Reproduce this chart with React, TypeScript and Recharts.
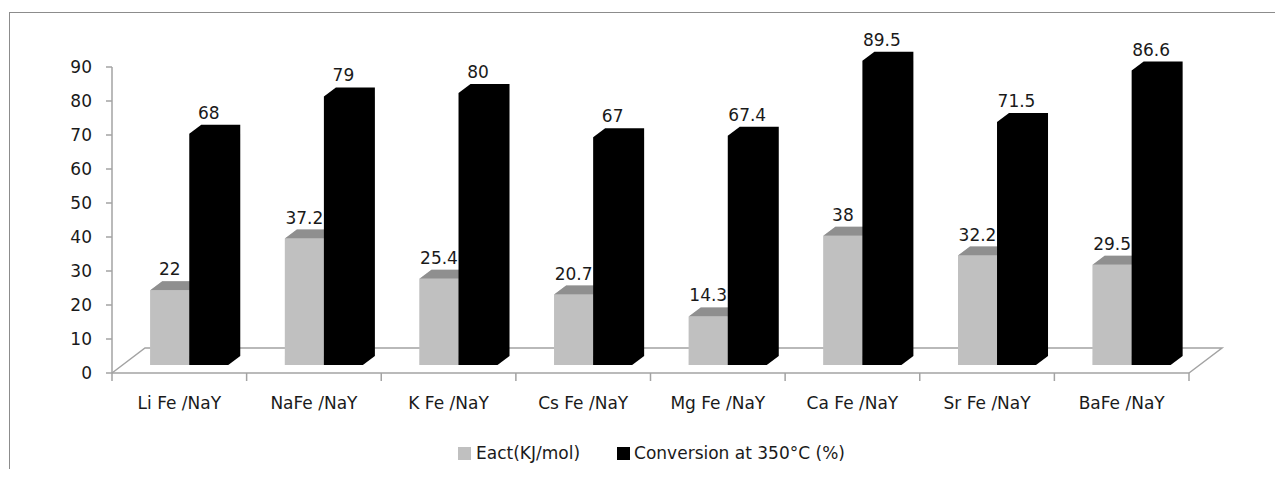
import React from 'react';
import { BarChart, Bar, XAxis, YAxis, Legend, LabelList } from 'recharts';

const categories = ['Li Fe /NaY', 'NaFe /NaY', 'K Fe /NaY', 'Cs Fe /NaY', 'Mg Fe /NaY', 'Ca Fe /NaY', 'Sr Fe /NaY', 'BaFe /NaY'];
const eact = [22, 37.2, 25.4, 20.7, 14.3, 38, 32.2, 29.5];
const conversion = [68, 79, 80, 67, 67.4, 89.5, 71.5, 86.6];
const yTicks = [0, 10, 20, 30, 40, 50, 60, 70, 80, 90];

const seriesNames = { eact: 'Eact(KJ/mol)', conversion: 'Conversion at 350°C (%)' };

const data = categories.map((name, i) => ({ name, eact: eact[i], conversion: conversion[i] }));

// chart frame
const W = 1283;
const H = 477;
const PLOT_LEFT = 112;
const PLOT_RIGHT = 1189;
const PLOT_TOP = 67;
const PLOT_BOTTOM = 373;
const X_AXIS_H = 40;
const Y_AXIS_W = 60;

// fake 3d: bars stand a little back on the floor, and have their own depth
const SHIFT_X = 10;
const SHIFT_Y = -8;
const DEPTH_X = 12;
const DEPTH_Y = -9;
const FLOOR_DX = 33;
const FLOOR_DY = -25;

const FONT = '"DejaVu Sans", Verdana, sans-serif';
const TEXT = '#1a1a1a';
const GRID = '#a3a3a3';

const Bar3D = (props: any) => {
  const { x, y, width, height, front, top, side } = props;
  if (width == null || height == null) return null;
  const fx = x + SHIFT_X;
  const fy = y + SHIFT_Y;
  const r = fx + width;
  const b = fy + height;
  const same = front === top && front === side;
  // one outline for the whole block, faces on top only when they differ
  return (
    <g>
      <polygon
        points={`${fx},${b} ${fx},${fy} ${fx + DEPTH_X},${fy + DEPTH_Y} ${r + DEPTH_X},${fy + DEPTH_Y} ${r + DEPTH_X},${b + DEPTH_Y} ${r},${b}`}
        fill={front}
      />
      {!same && (
        <>
          <polygon
            points={`${r},${fy} ${r + DEPTH_X},${fy + DEPTH_Y} ${r + DEPTH_X},${b + DEPTH_Y} ${r},${b}`}
            fill={side}
          />
          <polygon
            points={`${fx},${fy} ${fx + DEPTH_X},${fy + DEPTH_Y} ${r + DEPTH_X},${fy + DEPTH_Y} ${r},${fy}`}
            fill={top}
          />
          <rect x={fx} y={fy} width={width} height={height} fill={front} />
        </>
      )}
    </g>
  );
};

const TopLabel = (props: any) => {
  const vb = props.viewBox || {};
  const x = props.x ?? vb.x;
  const y = props.y ?? vb.y;
  const width = props.width ?? vb.width;
  return (
    <text
      x={x + SHIFT_X + width / 2}
      y={y + SHIFT_Y + DEPTH_Y - 6}
      textAnchor="middle"
      fontSize={17}
      fontFamily={FONT}
      fill={TEXT}
    >
      {props.value}
    </text>
  );
};

const step = (PLOT_RIGHT - PLOT_LEFT) / categories.length;

const CategoryTick = (props: any) => {
  const { x, payload, index } = props;
  const left = x - step / 2;
  return (
    <g>
      <line x1={left} y1={PLOT_BOTTOM} x2={left} y2={PLOT_BOTTOM + 8} stroke={GRID} strokeWidth={1.5} />
      {index === categories.length - 1 && (
        <line x1={left + step} y1={PLOT_BOTTOM} x2={left + step} y2={PLOT_BOTTOM + 8} stroke={GRID} strokeWidth={1.5} />
      )}
      <text x={x} y={PLOT_BOTTOM + 36} textAnchor="middle" fontSize={17} fontFamily={FONT} fill={TEXT}>
        {payload.value}
      </text>
    </g>
  );
};

const LegendContent = () => (
  <div
    style={{
      display: 'flex',
      justifyContent: 'center',
      alignItems: 'center',
      paddingLeft: 20,
      fontFamily: FONT,
      fontSize: 17,
      color: TEXT,
      lineHeight: '20px',
    }}
  >
    <span style={{ width: 13, height: 13, background: '#c0c0c0', marginRight: 5 }} />
    <span style={{ marginRight: 37 }}>{seriesNames.eact}</span>
    <span style={{ width: 13, height: 13, background: '#000', marginRight: 4 }} />
    <span>{seriesNames.conversion}</span>
  </div>
);

// floor of the plot, drawn behind the chart svg
const Floor = () => (
  <svg width={W} height={H} style={{ position: 'absolute', left: 0, top: 0 }}>
    <polyline
      points={`${PLOT_LEFT},${PLOT_BOTTOM} ${PLOT_LEFT + FLOOR_DX},${PLOT_BOTTOM + FLOOR_DY} ${PLOT_RIGHT + FLOOR_DX},${PLOT_BOTTOM + FLOOR_DY} ${PLOT_RIGHT},${PLOT_BOTTOM}`}
      fill="none"
      stroke={GRID}
      strokeWidth={1.5}
    />
  </svg>
);

export default function App() {
  return (
    <div style={{ position: 'relative', margin: -8, height: H, overflow: 'hidden', background: '#fff', fontFamily: FONT }}>
      <div
        style={{
          position: 'absolute',
          left: 9,
          top: 12,
          width: 1400,
          height: 600,
          border: '1px solid #8c8c8c',
        }}
      />
      <Floor />
      <div style={{ position: 'absolute', left: 0, top: 0 }}>
        <BarChart
          width={W}
          height={H}
          data={data}
          margin={{ top: PLOT_TOP, bottom: H - PLOT_BOTTOM - X_AXIS_H, left: PLOT_LEFT - Y_AXIS_W, right: W - PLOT_RIGHT }}
          barCategoryGap="21%"
          barGap={0}
        >
          <XAxis
            dataKey="name"
            height={X_AXIS_H}
            interval={0}
            axisLine={{ stroke: GRID, strokeWidth: 1.5 }}
            tickLine={false}
            tick={<CategoryTick />}
          />
          <YAxis
            width={Y_AXIS_W}
            domain={[0, 90]}
            ticks={yTicks}
            interval={0}
            tickSize={6}
            tickMargin={14}
            axisLine={{ stroke: GRID, strokeWidth: 1.5 }}
            tickLine={{ stroke: GRID, strokeWidth: 1.5 }}
            tick={{ fill: TEXT, fontSize: 17, fontFamily: FONT }}
          />
          <Legend
            verticalAlign="middle"
            align="center"
            wrapperStyle={{ top: 443, left: 0, width: W }}
            content={<LegendContent />}
          />
          <Bar
            dataKey="eact"
            name={seriesNames.eact}
            isAnimationActive={false}
            shape={(p: any) => <Bar3D {...p} front="#c0c0c0" top="#8f8f8f" side="#a6a6a6" />}
          >
            <LabelList dataKey="eact" content={<TopLabel />} />
          </Bar>
          <Bar
            dataKey="conversion"
            name={seriesNames.conversion}
            isAnimationActive={false}
            shape={(p: any) => <Bar3D {...p} front="#000" top="#000" side="#000" />}
          >
            <LabelList dataKey="conversion" content={<TopLabel />} />
          </Bar>
        </BarChart>
      </div>
    </div>
  );
}
